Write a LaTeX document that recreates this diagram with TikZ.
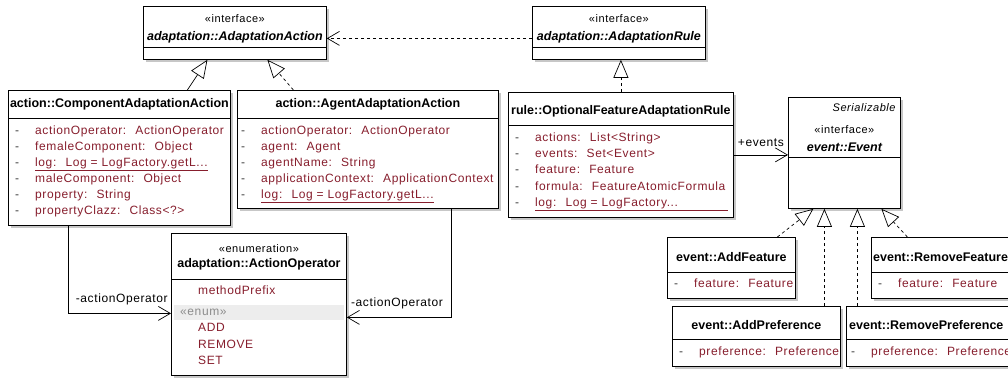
\documentclass[tikz,border=0pt]{standalone}
\usepackage{fontspec}
\setmainfont{Liberation Sans}
\newfontfamily\attrfont[LetterSpace=5]{Liberation Sans}
\usetikzlibrary{arrows.meta,shadows}
\definecolor{attrred}{RGB}{135,30,45}
\definecolor{dashgray}{RGB}{60,60,60}
\newcommand{\mk}{\makebox[20pt][l]{\textcolor{dashgray}{-}}}

\begin{document}
\begin{tikzpicture}[x=1pt,y=-1pt,
	umlbox/.style={rectangle, draw=black, line width=0.8pt, fill=white, anchor=north west, inner sep=0pt, drop shadow={shadow xshift=3pt, shadow yshift=-3pt, fill=black!22, opacity=1}},
	divline/.style={line width=0.8pt},
	cname/.style={inner sep=0pt, font=\bfseries\fontsize{12.5}{15}\selectfont},
	iname/.style={inner sep=0pt, font=\bfseries\itshape\fontsize{12.5}{15}\selectfont},
	stereo/.style={inner sep=0pt, font=\attrfont\fontsize{11}{13}\selectfont},
	attr/.style={inner sep=0pt, anchor=mid west, text=attrred, font=\attrfont\fontsize{12}{14}\selectfont},
	lbl/.style={inner sep=0pt, font=\attrfont\fontsize{12}{14}\selectfont},
	gen/.style={-{Triangle[open, length=18pt, width=15pt]}, line width=0.7pt},
	realize/.style={gen, dash pattern=on 3pt off 3pt},
	assoc/.style={-{Straight Barb[length=12pt, width=14pt]}, line width=0.7pt},
	dep/.style={assoc, dash pattern=on 3pt off 3pt}]
	\useasboundingbox (0,0) rectangle (1008,380);

	\node[umlbox, minimum width=183pt, minimum height=53pt] (act) at (143,6) {};
	\node[stereo] (actst) at ([yshift=-13pt]act.north) {«interface»};
	\node[iname] (actnm) at ([yshift=-31pt]act.north) {adaptation::AdaptationAction};
	\draw[divline] ([yshift=-41pt]act.north west) -- ([yshift=-41pt]act.north east);

	\node[umlbox, minimum width=173pt, minimum height=53pt] (rule) at (532,6) {};
	\node[stereo] (rulest) at ([yshift=-13pt]rule.north) {«interface»};
	\node[iname] (rulenm) at ([yshift=-31pt]rule.north) {adaptation::AdaptationRule};
	\draw[divline] ([yshift=-41pt]rule.north west) -- ([yshift=-41pt]rule.north east);

	\node[umlbox, minimum width=222pt, minimum height=135pt] (comp) at (8,90) {};
	\node[cname] (compnm) at ([yshift=-14pt]comp.north) {action::ComponentAdaptationAction};
	\draw[divline] ([yshift=-28pt]comp.north west) -- ([yshift=-28pt]comp.north east);
	\node[attr] (comp1) at ([xshift=7pt, yshift=-42pt]comp.north west) {\mk actionOperator:~ ActionOperator};
	\node[attr] (comp2) at ([xshift=7pt, yshift=-58pt]comp.north west) {\mk femaleComponent:~ Object};
	\node[attr] (comp3) at ([xshift=7pt, yshift=-74pt]comp.north west) {\mk \underline{log:~ Log = LogFactory.getL...}};
	\node[attr] (comp4) at ([xshift=7pt, yshift=-90pt]comp.north west) {\mk maleComponent:~ Object};
	\node[attr] (comp5) at ([xshift=7pt, yshift=-106pt]comp.north west) {\mk property:~ String};
	\node[attr] (comp6) at ([xshift=7pt, yshift=-122pt]comp.north west) {\mk propertyClazz:~ Class<?>};

	\node[umlbox, minimum width=261pt, minimum height=118pt] (agent) at (237,90) {};
	\node[cname] (agentnm) at ([yshift=-14pt]agent.north) {action::AgentAdaptationAction};
	\draw[divline] ([yshift=-28pt]agent.north west) -- ([yshift=-28pt]agent.north east);
	\node[attr] (agent1) at ([xshift=4pt, yshift=-42pt]agent.north west) {\mk actionOperator:~ ActionOperator};
	\node[attr] (agent2) at ([xshift=4pt, yshift=-58pt]agent.north west) {\mk agent:~ Agent};
	\node[attr] (agent3) at ([xshift=4pt, yshift=-74pt]agent.north west) {\mk agentName:~ String};
	\node[attr] (agent4) at ([xshift=4pt, yshift=-90pt]agent.north west) {\mk applicationContext:~ ApplicationContext};
	\node[attr] (agent5) at ([xshift=4pt, yshift=-106pt]agent.north west) {\mk \underline{log:~ Log = LogFactory.getL...}};

	\node[umlbox, minimum width=225pt, minimum height=125pt] (opt) at (508,92) {};
	\node[cname] (optnm) at ([yshift=-19pt]opt.north) {rule::OptionalFeatureAdaptationRule};
	\draw[divline] ([yshift=-33pt]opt.north west) -- ([yshift=-33pt]opt.north east);
	\node[attr] (opt1) at ([xshift=7pt, yshift=-47pt]opt.north west) {\mk actions:~ List<String>};
	\node[attr] (opt2) at ([xshift=7pt, yshift=-63pt]opt.north west) {\mk events:~ Set<Event>};
	\node[attr] (opt3) at ([xshift=7pt, yshift=-79pt]opt.north west) {\mk feature:~ Feature};
	\node[attr] (opt4) at ([xshift=7pt, yshift=-96pt]opt.north west) {\mk formula:~ FeatureAtomicFormula};
	\node[attr] (opt5) at ([xshift=7pt, yshift=-112pt]opt.north west) {\mk \underline{\makebox[193pt][l]{log:~ Log = LogFactory...}}};

	\node[umlbox, minimum width=112pt, minimum height=111pt] (event) at (788,97) {};
	\node[stereo, anchor=east, font=\attrfont\itshape\fontsize{11}{13}\selectfont] (evser) at ([xshift=-5pt, yshift=-11pt]event.north east) {Serializable};
	\node[stereo] (evst) at ([yshift=-33pt]event.north) {«interface»};
	\node[iname] (evnm) at ([yshift=-50pt]event.north) {event::Event};
	\draw[divline] ([yshift=-60pt]event.north west) -- ([yshift=-60pt]event.north east);

	\node[umlbox, minimum width=128pt, minimum height=61pt] (addf) at (667,237) {};
	\node[cname] (addfnm) at ([yshift=-20pt]addf.north) {event::AddFeature};
	\draw[divline] ([yshift=-35pt]addf.north west) -- ([yshift=-35pt]addf.north east);
	\node[attr] (addf1) at ([xshift=7pt, yshift=-48pt]addf.north west) {\mk feature:~ Feature};

	\node[umlbox, minimum width=160pt, minimum height=61pt] (remf) at (871,237) {};
	\node[cname, anchor=west] (remfnm) at ([xshift=2pt, yshift=-20pt]remf.north west) {event::RemoveFeature};
	\draw[divline] ([yshift=-35pt]remf.north west) -- ([yshift=-35pt]remf.north east);
	\node[attr] (remf1) at ([xshift=7pt, yshift=-48pt]remf.north west) {\mk feature:~ Feature};

	\node[umlbox, minimum width=168pt, minimum height=60pt] (addp) at (672,306) {};
	\node[cname] (addpnm) at ([yshift=-19pt]addp.north) {event::AddPreference};
	\draw[divline] ([yshift=-33pt]addp.north west) -- ([yshift=-33pt]addp.north east);
	\node[attr] (addp1) at ([xshift=7pt, yshift=-47pt]addp.north west) {\mk preference:~ Preference};

	\node[umlbox, minimum width=190pt, minimum height=60pt] (remp) at (846,306) {};
	\node[cname, anchor=west] (rempnm) at ([xshift=3pt, yshift=-19pt]remp.north west) {event::RemovePreference};
	\draw[divline] ([yshift=-33pt]remp.north west) -- ([yshift=-33pt]remp.north east);
	\node[attr] (remp1) at ([xshift=5pt, yshift=-47pt]remp.north west) {\mk preference:~ Preference};

	\node[umlbox, minimum width=175pt, minimum height=142pt] (enumop) at (171,233) {};
	\node[stereo] (enumst) at ([yshift=-16pt]enumop.north) {«enumeration»};
	\node[cname] (enumnm) at ([yshift=-31pt]enumop.north) {adaptation::ActionOperator};
	\draw[divline] ([yshift=-46pt]enumop.north west) -- ([yshift=-46pt]enumop.north east);
	\node[attr] (enum1) at ([xshift=27pt, yshift=-59pt]enumop.north west) {methodPrefix};
	\fill[black!7] ([xshift=3pt, yshift=-72pt]enumop.north west) rectangle ([xshift=-3pt, yshift=-87pt]enumop.north east);
	\node[attr, text=black!45] (enumlit) at ([xshift=9pt, yshift=-80pt]enumop.north west) {«enum»};
	\node[attr] (enum2) at ([xshift=27pt, yshift=-96pt]enumop.north west) {ADD};
	\node[attr] (enum3) at ([xshift=27pt, yshift=-113pt]enumop.north west) {REMOVE};
	\node[attr] (enum4) at ([xshift=27pt, yshift=-129pt]enumop.north west) {SET};

	\draw[dep] ([yshift=-5.5pt]rule.west) -- ([yshift=-5.5pt]act.east);
	\draw[gen] ([xshift=68pt]comp.north) -- ([xshift=-27.5pt]act.south);
	\draw[realize] ([xshift=-74.5pt]agent.north) -- ([xshift=32.5pt]act.south);
	\draw[realize] (opt.north) -- (opt.north |- rule.south);
	\draw[realize] ([xshift=46pt]addf.north) -- ([xshift=-31pt]event.south);
	\draw[realize] ([xshift=68pt]addp.north) -- ([xshift=-20pt]event.south);
	\draw[realize] ([xshift=-84pt]remp.north) -- ([xshift=13pt]event.south);
	\draw[realize] ([xshift=-44pt]remf.north) -- ([xshift=37pt]event.south);

	\draw[assoc] ([xshift=-51pt]comp.south) |- node[lbl, pos=0.76, above=8pt] (compop) {-actionOperator} ([yshift=-9pt]enumop.west);
	\draw[assoc] ([xshift=83.5pt]agent.south) |- node[lbl, pos=0.76, above=8pt] (agentop) {-actionOperator} ([yshift=-13pt]enumop.east);
	\draw[assoc] (opt.east) -- node[lbl, above=8pt] (optev) {+events} (opt.east -| event.west);
\end{tikzpicture}
\end{document}
